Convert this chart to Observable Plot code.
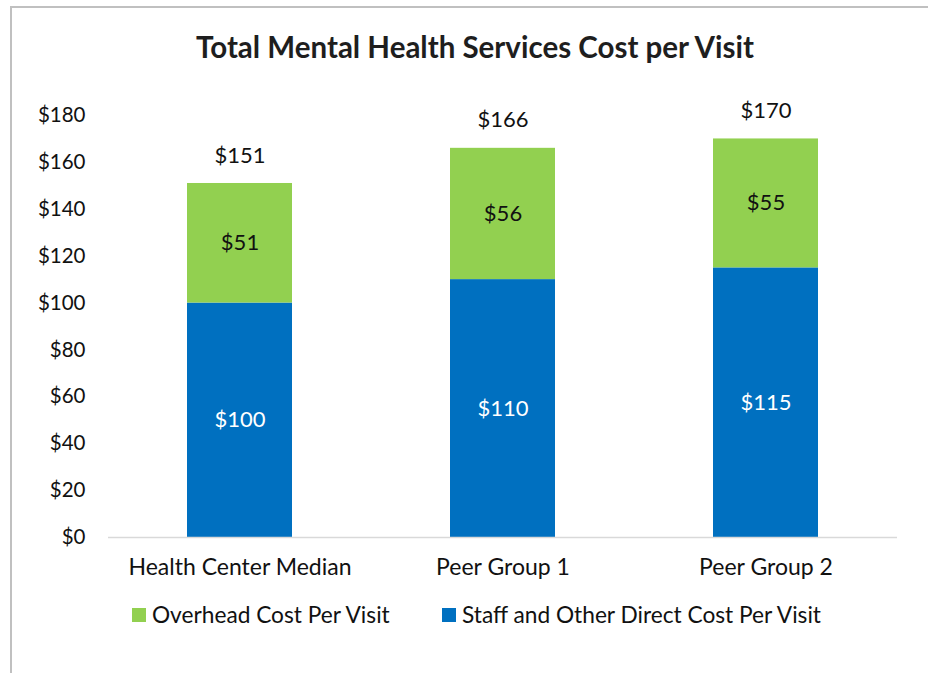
<!DOCTYPE html>
<html>
<head>
<meta charset="utf-8">
<script src="https://cdn.jsdelivr.net/npm/d3@7"></script>
<script src="https://cdn.jsdelivr.net/npm/@observablehq/plot@0.6"></script>
<style>
  html, body { margin: 0; padding: 0; background: #fff; }
  body { width: 928px; height: 673px; position: relative; overflow: hidden; font-family: Lato, "Open Sans", sans-serif; color: #111; }
  #frame { position: absolute; left: 10px; top: 6px; width: 940px; height: 700px; border: 2px solid #c0c0c0; box-sizing: border-box; }
  #title { position: absolute; left: 10px; width: 930px; top: 27px; text-align: center; font-weight: bold; font-size: 29.5px; color: #1e1e1e; line-height: 40px; }
  #chart { position: absolute; left: 0; top: 0; }
  #legend { position: absolute; top: 601px; left: 132px; font-size: 22.7px; line-height: 28px; display: flex; }
  .item { display: flex; align-items: center; position: absolute; white-space: nowrap; }
  .sw { width: 14px; height: 14px; margin-right: 6px; }
</style>
</head>
<body>
<div id="frame"></div>
<div id="title">Total Mental Health Services Cost per Visit</div>
<div id="chart"></div>
<div id="legend"></div>
<script>
const categories = ["Health Center Median", "Peer Group 1", "Peer Group 2"];
const seriesNames = ["Staff and Other Direct Cost Per Visit", "Overhead Cost Per Visit"];
const staffValues = [100, 110, 115];
const overheadValues = [51, 56, 55];
const totalValues = [151, 166, 170];
const yTicks = [0, 20, 40, 60, 80, 100, 120, 140, 160, 180];
const colors = ["#0070C0", "#92D050"];
const legendOrder = ["Overhead Cost Per Visit", "Staff and Other Direct Cost Per Visit"];

const rows = [];
categories.forEach((c, i) => {
  rows.push({cat: c, series: seriesNames[0], value: staffValues[i]});
  rows.push({cat: c, series: seriesNames[1], value: overheadValues[i]});
});
const totals = categories.map((c, i) => ({cat: c, total: totalValues[i]}));

const plot = Plot.plot({
  width: 928,
  height: 673,
  marginTop: 115,
  marginBottom: 136,
  marginLeft: 108,
  marginRight: 31,
  style: {fontFamily: "Lato, 'Open Sans', sans-serif", fontSize: "20.5px", color: "#111", background: "transparent"},
  x: {domain: categories, paddingInner: 0.6, paddingOuter: 0.3, label: null, tickSize: 0, tickPadding: 21},
  y: {domain: [0, 180], ticks: yTicks, tickFormat: d => "$" + d, label: null, tickSize: 0, tickPadding: 23},
  color: {domain: seriesNames, range: colors},
  marks: [
    Plot.barY(rows, {x: "cat", y: "value", fill: "series", order: seriesNames}),
    Plot.ruleY([0], {stroke: "#d9d9d9", strokeWidth: 1.5}),
    Plot.text(rows, Plot.stackY({x: "cat", y: "value", order: seriesNames,
      text: d => "$" + d.value,
      fill: {value: d => d.series === seriesNames[0] ? "#ffffff" : "#111111", scale: null},
      fontSize: 22})),
    Plot.text(totals, {x: "cat", y: "total", text: d => "$" + d.total, dy: -28, fontSize: 22, fill: "#111"})
  ]
});
plot.querySelectorAll("[aria-label='x-axis tick label'] text").forEach(t => t.style.fontSize = "23px");
document.getElementById("chart").appendChild(plot);

const legend = document.getElementById("legend");
const legendLeft = [0, 310];
legendOrder.forEach((name, i) => {
  const item = document.createElement("div");
  item.className = "item";
  item.style.left = legendLeft[i] + "px";
  const sw = document.createElement("div");
  sw.className = "sw";
  sw.style.background = colors[seriesNames.indexOf(name)];
  const t = document.createElement("span");
  t.textContent = name;
  item.appendChild(sw);
  item.appendChild(t);
  legend.appendChild(item);
});
</script>
</body>
</html>
